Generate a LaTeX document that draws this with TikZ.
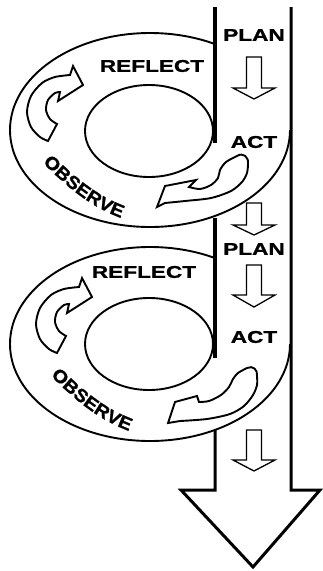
\documentclass[tikz,border=0pt]{standalone}
\usepackage{fontspec}
\usetikzlibrary{decorations.text}
\newfontfamily\lblfont{Liberation Sans}[UprightFont={* Bold}, FakeStretch=1.33, FakeBold=1.2]
\newfontfamily\obsfont{Liberation Sans}[UprightFont={* Bold}, FakeStretch=1.1, FakeBold=1.2]
\newcommand\obsstyle{\obsfont\fontsize{18}{20}\selectfont}
\newcommand\dnarrow[3]{\draw[downarrow] (246.5,#1) -- (261.5,#1) -- (261.5,#2) -- (275,#2) -- (254,#3) -- (233,#2) -- (246.5,#2) -- cycle;}
\newcommand\leftcurv{\draw[curvarrow] (83,85) -- (73,66) -- (70,75) -- plot[smooth] coordinates {(70,75) (55,77) (42,83) (31,96) (27,112) (31,127) (40,137) (48,141)} -- (57,124) -- plot[smooth] coordinates {(57,124) (50,119) (46,110) (48,100) (55,93) (60,92)} -- (58,101) -- cycle;}
\begin{document}
\begin{tikzpicture}[x=1pt,y=-1pt,
  ring/.style={line width=1.9pt},
  band/.style={line width=3.4pt},
  lbl/.style={font=\lblfont\fontsize{17}{19}\selectfont, inner sep=0pt},
  curvarrow/.style={draw, fill=white, line width=1.9pt},
  downarrow/.style={draw, fill=white, line width=1.3pt}]
\useasboundingbox (0,0) rectangle (323,571);
% inner ellipses
\draw[ring] (149,131) ellipse [x radius=64pt, y radius=46pt];
\draw[ring] (149,344) ellipse [x radius=64pt, y radius=46pt];
% outer ellipses (partly hidden behind the band)
\begin{scope}
  \clip (0,0) rectangle (215,571);
  \draw[ring] (150,130) ellipse [x radius=140pt, y radius=97pt];
  \draw[ring] (150,344) ellipse [x radius=140pt, y radius=97pt];
\end{scope}
\begin{scope}
  \clip (215,130) rectangle (323,240);
  \draw[ring] (150,130) ellipse [x radius=140pt, y radius=97pt];
\end{scope}
\begin{scope}
  \clip (215,344) rectangle (323,460);
  \draw[ring] (150,344) ellipse [x radius=140pt, y radius=97pt];
\end{scope}
% band
\draw[band] (215,7) -- (215,143);
\draw[band] (215,218) -- (215,358);
\draw[band, line width=3pt] (215,430) -- (215,490) -- (181,490) -- (253,567) -- (320,490) -- (291,490) -- (291,7);
% labels
\node[lbl] (plan1) at (254,35) {PLAN};
\node[lbl] (reflect1) at (152,66) {REFLECT};
\node[lbl] (act1) at (254,142) {ACT};
\node[lbl] (plan2) at (254,249) {PLAN};
\node[lbl] (reflect2) at (144,272) {REFLECT};
\node[lbl] (act2) at (254,337) {ACT};
\path[decorate, decoration={text along path, text align=center, text={|\obsstyle|OBSERVE}}]
  (36,156) .. controls (62,182) and (88,208) .. (130,221);
\path[decorate, decoration={text along path, text align=center, text={|\obsstyle|OBSERVE}}]
  (44,369) .. controls (70,395) and (96,421) .. (138,434);
% down arrows
\dnarrow{57}{88}{99}
\dnarrow{203}{225}{235}
\dnarrow{265}{295}{307}
\dnarrow{430}{460}{471}
% curved arrows
\leftcurv
\begin{scope}[shift={(9,212)}]
  \leftcurv
\end{scope}
\draw[curvarrow] (237,156) .. controls (243,152) and (249,157) .. (248,164) -- plot[smooth] coordinates {(248,164) (247,173) (242,182) (231,191) (211,198) (185,201) (165,203)} -- (157,207) -- (165,186) -- (196,180) -- (189,187) -- plot[smooth] coordinates {(189,187) (200,189) (211,185) (218,178) (220,170) (226,162) (237,156)} -- cycle;
\draw[curvarrow] (247,368) .. controls (253,365) and (258,370) .. (257,376) -- plot[smooth] coordinates {(257,376) (257,385) (253,395) (244,406) (230,414) (207,419) (180,421)} -- (168,423) -- (175,402) -- (197,396) -- (199,402) -- plot[smooth] coordinates {(199,402) (209,401) (221,395) (229,387) (233,379) (238,373) (247,368)} -- cycle;
\end{tikzpicture}
\end{document}
